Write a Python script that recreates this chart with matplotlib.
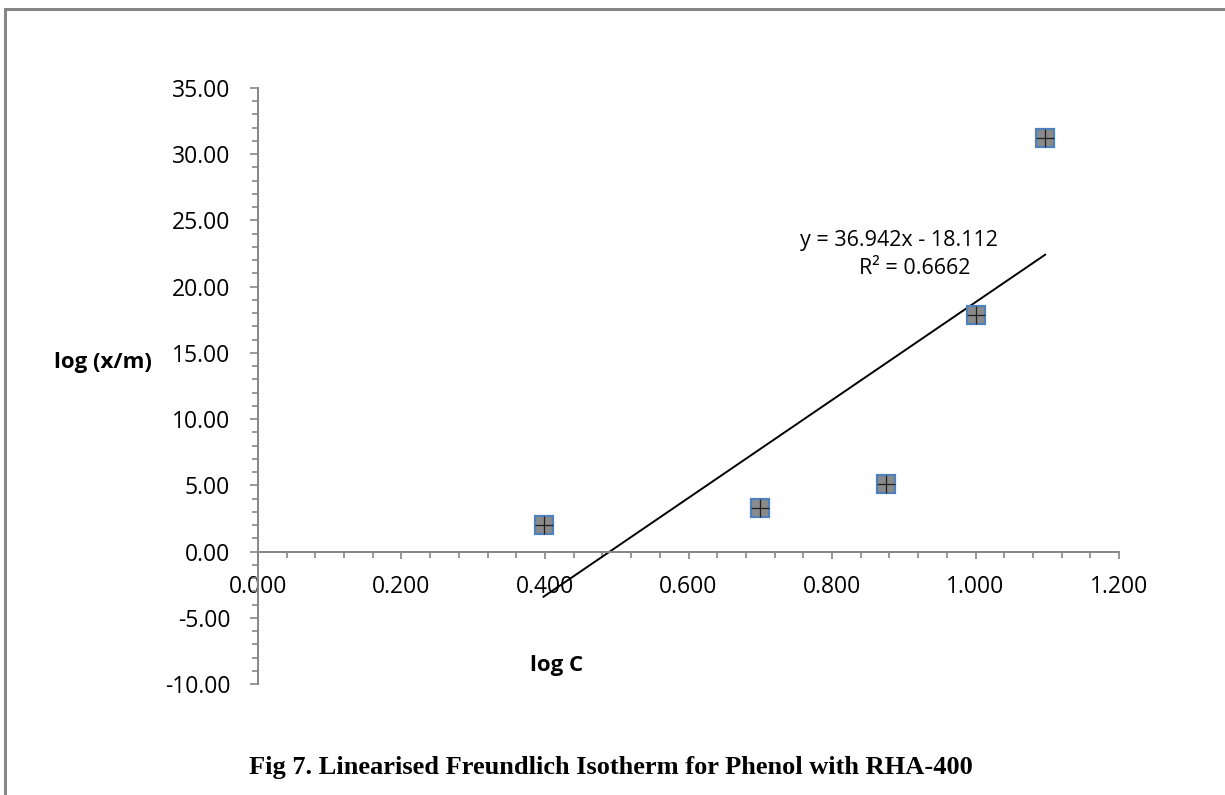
"""Linearised Freundlich isotherm plot for phenol adsorption on RHA-400."""

import matplotlib

matplotlib.use("Agg")
import numpy as np
from matplotlib import pyplot as plt
from matplotlib.patches import Rectangle
from matplotlib.ticker import MultipleLocator

# ---------------------------------------------------------------------------
# Data
# ---------------------------------------------------------------------------

log_c = [0.398, 0.699, 0.875, 1.000, 1.097]
log_xm = [2.00, 3.32, 5.11, 17.85, 31.25]

# Trendline coefficients as reported by the fit label
fit_slope = 36.942
fit_intercept = -18.112
fit_r2 = 0.6662

x_ticks = [0.0, 0.2, 0.4, 0.6, 0.8, 1.0, 1.2]
y_ticks = [-10, -5, 0, 5, 10, 15, 20, 25, 30, 35]

caption = "Fig 7. Linearised Freundlich Isotherm for Phenol with RHA-400"

# ---------------------------------------------------------------------------
# Figure
# ---------------------------------------------------------------------------

plt.rcParams["font.family"] = ["Open Sans", "DejaVu Sans"]
AXIS_GREY = "#868686"

fig = plt.figure(figsize=(12.25, 7.95), dpi=100)
ax = fig.add_axes([0.2106, 0.1396, 0.7029, 0.7497])

# Outer chart border (only top/left fall inside the canvas)
fig.patches.append(
    Rectangle(
        (5 / 1225, -0.1),
        1.2,
        1.1 - 8.5 / 795,
        transform=fig.transFigure,
        fill=False,
        edgecolor=AXIS_GREY,
        linewidth=2.2,
    )
)

# Trendline over the span of the data
x_fit = np.array([min(log_c), max(log_c)])
ax.plot(x_fit, fit_slope * x_fit + fit_intercept, color="black", lw=1.4, zorder=2)

# Patterned square markers: grey face, blue rim, black cross
ax.plot(
    log_c,
    log_xm,
    linestyle="none",
    marker="s",
    markersize=13.5,
    markerfacecolor="#8a8a8a",
    markeredgecolor="#4f81bd",
    markeredgewidth=1.6,
    zorder=3,
)
ax.plot(
    log_c,
    log_xm,
    linestyle="none",
    marker="+",
    markersize=12.5,
    markeredgecolor="#202020",
    markeredgewidth=0.9,
    zorder=4,
)

ax.set_xlim(0, 1.2)
ax.set_ylim(-10, 35)
ax.set_xticks(x_ticks)
ax.set_yticks(y_ticks)
ax.xaxis.set_minor_locator(MultipleLocator(0.04))
ax.yaxis.set_minor_locator(MultipleLocator(1))
ax.set_xticklabels([f"{v:.3f}" for v in x_ticks])
ax.set_yticklabels([f"{v:.2f}" for v in y_ticks])

for side in ("top", "right"):
    ax.spines[side].set_visible(False)
ax.spines["bottom"].set_position(("data", 0))
for side in ("left", "bottom"):
    ax.spines[side].set_color(AXIS_GREY)
    ax.spines[side].set_linewidth(1.4)

ax.tick_params(which="both", direction="out", color=AXIS_GREY, width=1.2,
               labelsize=16.5, labelcolor="black")
ax.tick_params(axis="y", which="major", length=6, pad=14)
ax.tick_params(axis="y", which="minor", length=4)
ax.tick_params(axis="x", which="major", length=5, pad=12)
ax.tick_params(axis="x", which="minor", length=4)

ax.set_xlabel("log C", fontsize=16, fontweight="bold")
ax.xaxis.set_label_coords(0.347, 0.0487)
ax.set_ylabel("log (x/m)", fontsize=16, fontweight="bold", rotation=0,
              ha="right", va="center")
ax.yaxis.set_label_coords(-0.123, 0.540)

# Fit equation and R²
ax.text(0.893, 23.5, f"y = {fit_slope:.3f}x - {abs(fit_intercept):.3f}",
        fontsize=15.5, ha="center", va="center")
ax.text(0.915, 21.4, f"R² = {fit_r2:.4f}", fontsize=15.5, ha="center", va="center")

fig.text(0.499, 0.034, caption, ha="center", va="center", fontsize=19,
         fontweight="bold", family=["Liberation Serif", "DejaVu Serif"])

fig.savefig("out.png", dpi=100)
plt.close(fig)
